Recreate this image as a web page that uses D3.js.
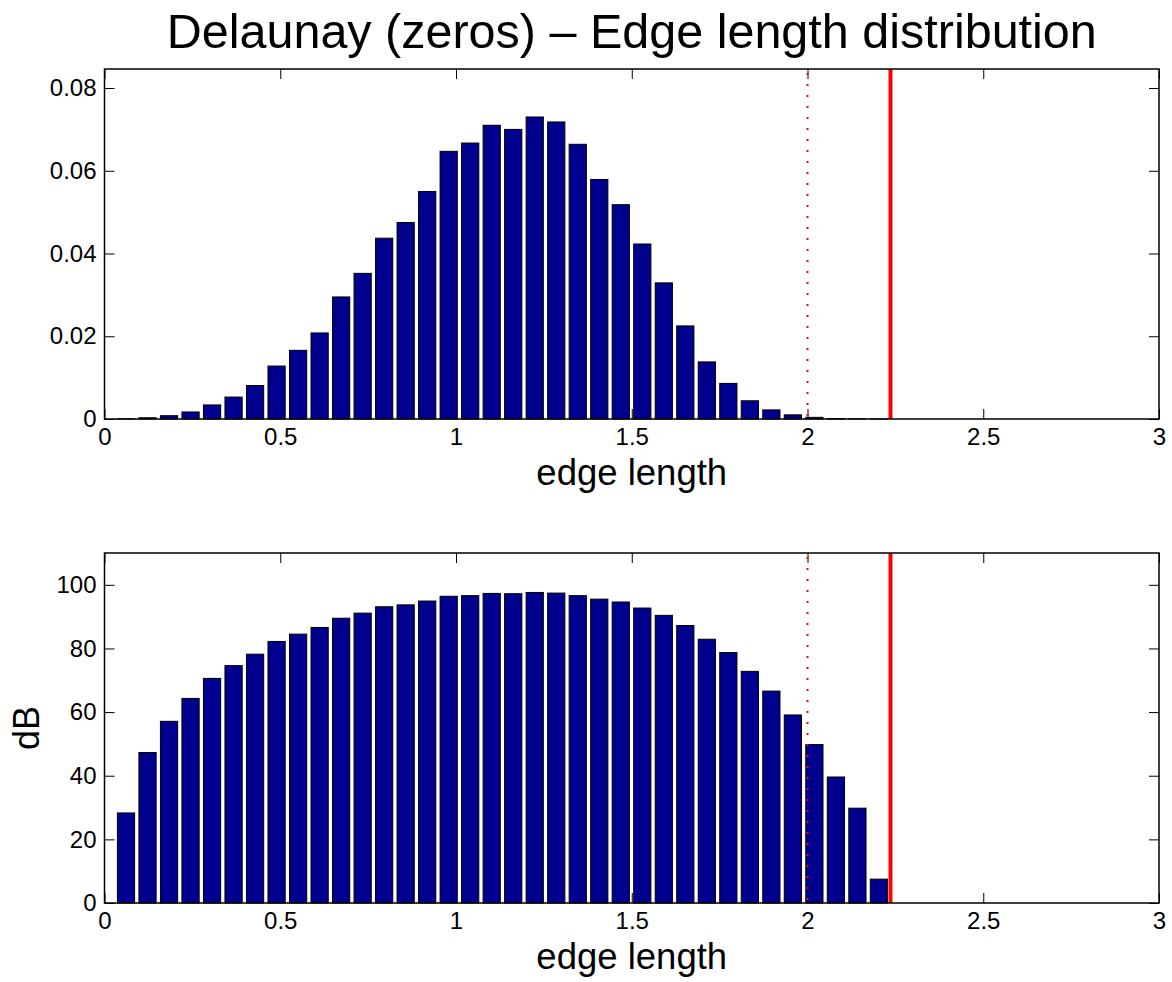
<!DOCTYPE html>
<html>
<head>
<meta charset="utf-8">
<script src="https://cdn.jsdelivr.net/npm/d3@7"></script>
<style>
  html, body { margin: 0; padding: 0; background: #fff; }
  svg { display: block; font-family: "Liberation Sans", Arial, Helvetica, sans-serif; }
</style>
</head>
<body>
<svg id="chart" width="1172" height="982"></svg>
<script>
// ---- data ----
const binCenters = [0.0612, 0.1224, 0.1836, 0.2448, 0.3060, 0.3672, 0.4284, 0.4896, 0.5508, 0.6120,
                    0.6732, 0.7344, 0.7956, 0.8568, 0.9180, 0.9792, 1.0404, 1.1016, 1.1628, 1.2240,
                    1.2852, 1.3464, 1.4076, 1.4688, 1.5300, 1.5912, 1.6524, 1.7136, 1.7748, 1.8360,
                    1.8972, 1.9584, 2.0196, 2.0808, 2.1420, 2.2032];
const probValues = [0.00003, 0.0003, 0.0008, 0.0017, 0.0034, 0.0053, 0.0081, 0.0128, 0.0166, 0.0208,
                    0.0295, 0.0352, 0.0437, 0.0475, 0.0550, 0.0647, 0.0667, 0.0710, 0.0700, 0.0730,
                    0.0718, 0.0664, 0.0579, 0.0518, 0.0423, 0.0329, 0.0225, 0.0138, 0.0086, 0.0044,
                    0.0022, 0.0010, 0.0004, 0.0001, 0.00003, 0.000002];
const dBValues   = [28.3, 47.3, 57.1, 64.3, 70.6, 74.6, 78.2, 82.2, 84.5, 86.6,
                    89.5, 91.1, 93.1, 93.7, 94.9, 96.4, 96.6, 97.3, 97.2, 97.6,
                    97.4, 96.6, 95.5, 94.6, 92.7, 90.4, 87.2, 82.9, 78.7, 72.8,
                    66.6, 59.1, 49.8, 39.6, 29.8, 7.5];
const xTicks = [0, 0.5, 1, 1.5, 2, 2.5, 3];
const xTickLabels = ["0", "0.5", "1", "1.5", "2", "2.5", "3"];
const probTicks = [0, 0.02, 0.04, 0.06, 0.08];
const probTickLabels = ["0", "0.02", "0.04", "0.06", "0.08"];
const dBTicks = [0, 20, 40, 60, 80, 100];
const dBTickLabels = ["0", "20", "40", "60", "80", "100"];
const xDomain = [0, 3];
const probDomain = [0, 0.0846];
const dBDomain = [0, 110];
const dottedLineX = 2;
const solidLineX = 2.2361;
const binSpacing = 0.0612;
const titleText = "Delaunay (zeros) \u2013 Edge length distribution";
const xLabelText = "edge length";
const yLabelBottom = "dB";

// ---- layout ----
const svg = d3.select("#chart");
const L = 104.5, R = 1159;
const panels = [
  { top: 69, bottom: 419, values: probValues, domain: probDomain, ticks: probTicks, labels: probTickLabels, ylabel: null },
  { top: 553, bottom: 903, values: dBValues, domain: dBDomain, ticks: dBTicks, labels: dBTickLabels, ylabel: yLabelBottom }
];

const TICK = 10;
const barColor = "#00008f";

svg.append("text")
  .attr("x", (L + R) / 2).attr("y", 48)
  .attr("text-anchor", "middle")
  .attr("font-size", 48.5)
  .attr("fill", "#000")
  .text(titleText);

panels.forEach(p => {
  const x = d3.scaleLinear().domain(xDomain).range([L, R]);
  const y = d3.scaleLinear().domain(p.domain).range([p.bottom, p.top]);
  const g = svg.append("g");

  // ticks (beneath data)
  const axB = d3.axisBottom(x).tickValues(xTicks).tickFormat((d, i) => xTickLabels[i]).tickSize(-TICK).tickPadding(9);
  const axT = d3.axisTop(x).tickValues(xTicks).tickFormat("").tickSize(-TICK);
  const axL = d3.axisLeft(y).tickValues(p.ticks).tickFormat((d, i) => p.labels[i]).tickSize(-TICK).tickPadding(8);
  const axR = d3.axisRight(y).tickValues(p.ticks).tickFormat("").tickSize(-TICK);

  const gb = g.append("g").attr("transform", `translate(0,${p.bottom})`).call(axB);
  const gt = g.append("g").attr("transform", `translate(0,${p.top})`).call(axT);
  const gl = g.append("g").attr("transform", `translate(${L},0)`).call(axL);
  const gr = g.append("g").attr("transform", `translate(${R},0)`).call(axR);
  [gb, gt, gl, gr].forEach(a => {
    a.select(".domain").remove();
    a.selectAll(".tick line").attr("stroke", "#000").attr("stroke-width", 1);
    a.selectAll(".tick text").attr("font-size", 24).attr("fill", "#000")
      .attr("font-family", '"Liberation Sans", Arial, Helvetica, sans-serif');
  });

  // bars
  const bw = x(binSpacing * 0.8) - x(0);
  g.append("g").selectAll("rect")
    .data(p.values)
    .join("rect")
    .attr("x", (d, i) => x(binCenters[i]) - bw / 2)
    .attr("y", d => y(d))
    .attr("width", bw)
    .attr("height", d => y(p.domain[0]) - y(d))
    .attr("fill", barColor)
    .attr("stroke", "#000")
    .attr("stroke-width", 1);

  // red reference lines
  g.append("line")
    .attr("x1", x(dottedLineX)).attr("x2", x(dottedLineX))
    .attr("y1", y(p.domain[1]) + 4).attr("y2", y(p.domain[0]))
    .attr("stroke", "#ff0000").attr("stroke-width", 2)
    .attr("stroke-dasharray", "2,9");
  g.append("line")
    .attr("x1", x(solidLineX)).attr("x2", x(solidLineX))
    .attr("y1", y(p.domain[1])).attr("y2", y(p.domain[0]))
    .attr("stroke", "#ff0000").attr("stroke-width", 4);

  // box
  g.append("rect")
    .attr("x", L).attr("y", p.top)
    .attr("width", R - L).attr("height", p.bottom - p.top)
    .attr("fill", "none").attr("stroke", "#000").attr("stroke-width", 1.5);

  // x label
  g.append("text")
    .attr("x", (L + R) / 2).attr("y", p.bottom + 66)
    .attr("text-anchor", "middle").attr("font-size", 36.5).attr("fill", "#000")
    .text(xLabelText);

  if (p.ylabel) {
    g.append("text")
      .attr("transform", `translate(39,${(p.top + p.bottom) / 2}) rotate(-90)`)
      .attr("text-anchor", "middle").attr("font-size", 36).attr("fill", "#000")
      .text(p.ylabel);
  }
});
</script>
</body>
</html>
